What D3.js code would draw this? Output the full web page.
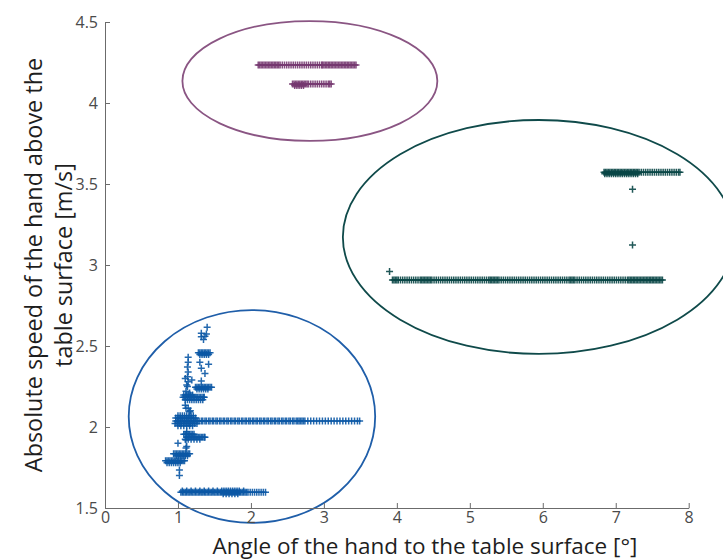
<!DOCTYPE html>
<html><head><meta charset="utf-8">
<script src="https://cdn.jsdelivr.net/npm/d3@7"></script>
<style>body{margin:0;background:#fff}svg{display:block}</style>
</head><body>
<svg id="c" width="723" height="560"></svg>
<script>
// ---------- tick labels / axis data ----------
const xTicks = [0, 1, 2, 3, 4, 5, 6, 7, 8];
const yTicks = [1.5, 2, 2.5, 3, 3.5, 4, 4.5];
const xTitle = "Angle of the hand to the table surface [°]";
const yTitleLines = ["Absolute speed of the hand above the", "table surface [m/s]"];

// ---------- series: rows of points [speed, [angles...]] ----------
const purpleRows = [
  [4.235, [2.10,2.12,2.14,2.16,2.18,2.20,2.22,2.24,2.26,2.28,2.30,2.32,2.34,2.36,2.38,2.40,2.43,2.46,2.49,2.52,2.55,2.58,2.61,2.64,2.67,2.70,2.73,2.76,2.79,2.82,2.85,2.88,2.91,2.94,2.97,2.98,3.00,3.02,3.04,3.06,3.08,3.10,3.12,3.14,3.16,3.18,3.20,3.22,3.24,3.26,3.28,3.30,3.32,3.34,3.36,3.38,3.40,3.42,3.44]],
  [4.117, [2.57,2.59,2.61,2.63,2.65,2.67,2.69,2.71,2.73,2.75,2.77,2.79,2.82,2.85,2.88,2.91,2.94,2.97,3.00,3.03,3.06,3.08,3.10]],
  [4.108, [2.60,2.63,2.66,2.69,2.72]]
];
const purpleSingles = [];

const greenRows = [
  [3.572, [6.84,6.86,6.88,6.90,6.92,6.94,6.96,6.98,7.00,7.02,7.04,7.06,7.08,7.10,7.12,7.14,7.16,7.18,7.20,7.22,7.24,7.26,7.28,7.30,7.32,7.35,7.38,7.41,7.44,7.47,7.50,7.53,7.56,7.59,7.62,7.65,7.68,7.71,7.74,7.77,7.80,7.83,7.86,7.88]],
  [3.564, [6.85,6.88,6.91,6.94,6.97,7.00,7.03,7.06,7.09,7.12,7.15,7.18,7.21,7.24,7.27,7.30]],
  [2.907, [3.94,3.96,3.98,4.00,4.02,4.05,4.08,4.11,4.14,4.17,4.20,4.23,4.26,4.29,4.32,4.34,4.36,4.38,4.40,4.42,4.44,4.46,4.48,4.51,4.54,4.57,4.60,4.63,4.66,4.69,4.72,4.75,4.78,4.81,4.84,4.87,4.90,4.93,4.96,4.99,5.02,5.05,5.08,5.11,5.14,5.17,5.20,5.23,5.26,5.28,5.30,5.32,5.34,5.36,5.38,5.40,5.43,5.46,5.49,5.52,5.55,5.58,5.61,5.64,5.67,5.70,5.73,5.76,5.79,5.82,5.85,5.88,5.91,5.94,5.97,6.00,6.03,6.06,6.09,6.12,6.15,6.18,6.21,6.24,6.27,6.30,6.33,6.36,6.38,6.40,6.42,6.44,6.47,6.50,6.53,6.56,6.59,6.62,6.65,6.68,6.71,6.74,6.77,6.80,6.83,6.86,6.89,6.92,6.95,6.98,7.01,7.04,7.07,7.10,7.13,7.16,7.18,7.20,7.22,7.24,7.26,7.28,7.30,7.32,7.34,7.36,7.38,7.40,7.42,7.44,7.46,7.48,7.50,7.52,7.54,7.56,7.58,7.60,7.62,7.64]]
];
const greenSingles = [[3.90, 2.96], [7.23, 3.467], [7.23, 3.123]];

const blueRows = [
  [1.597, [1.04,1.06,1.08,1.10,1.12,1.14,1.16,1.18,1.20,1.22,1.24,1.26,1.28,1.30,1.32,1.34,1.36,1.38,1.40,1.42,1.44,1.46,1.48,1.50,1.52,1.54,1.56,1.58,1.60,1.62,1.64,1.66,1.68,1.70,1.72,1.74,1.76,1.78,1.80,1.82,1.84,1.86,1.88,1.90,1.92,1.94,1.96,1.99,2.02,2.05,2.08,2.11,2.14,2.17,2.20]],
  [1.605, [1.06,1.12,1.18,1.24,1.30,1.36,1.42,1.48,1.54,1.60,1.63,1.66,1.69,1.72,1.75,1.78,1.81,1.84,1.90]],
  [1.588, [1.62,1.66,1.70,1.74,1.78,1.82]],
  [2.037, [0.97,0.99,1.01,1.03,1.05,1.07,1.09,1.11,1.13,1.15,1.17,1.19,1.21,1.23,1.25,1.27,1.29,1.32,1.34,1.37,1.39,1.42,1.44,1.47,1.49,1.52,1.54,1.57,1.59,1.62,1.64,1.67,1.69,1.72,1.74,1.77,1.79,1.82,1.84,1.87,1.89,1.92,1.94,1.97,1.99,2.02,2.04,2.07,2.09,2.12,2.14,2.17,2.19,2.22,2.24,2.27,2.29,2.32,2.34,2.37,2.39,2.42,2.44,2.47,2.49,2.52,2.54,2.57,2.59,2.62,2.64,2.66,2.68,2.70,2.72,2.74,2.78,2.82,2.86,2.90,2.94,2.98,3.02,3.06,3.10,3.14,3.18,3.22,3.26,3.30,3.34,3.38,3.42,3.46,3.49]],
  [2.070, [1.00,1.03,1.06,1.09,1.12,1.15,1.18,1.21]],
  [2.055, [0.97,1.00,1.03,1.06,1.09,1.12,1.15,1.18,1.21,1.24]],
  [2.022, [0.96,0.99,1.02,1.05,1.08,1.11,1.14,1.17,1.20,1.23,1.26]],
  [2.008, [1.00,1.04,1.08,1.12,1.16,1.20]],
  [1.955, [1.08,1.10,1.12,1.14,1.16,1.18,1.20,1.22]],
  [1.937, [1.12,1.14,1.16,1.18,1.20,1.22,1.24,1.26,1.28,1.30,1.32,1.34,1.36,1.37]],
  [1.925, [1.10,1.14,1.18,1.22,1.26,1.30]],
  [1.835, [0.94,0.96,0.98,1.00,1.02,1.04,1.06,1.08,1.10,1.12,1.14,1.16]],
  [1.822, [0.98,1.01,1.04,1.07,1.10,1.13]],
  [1.792, [0.83,0.85,0.87,0.89,0.91,0.93,0.95,0.97,0.99,1.01,1.03,1.05,1.07,1.09]],
  [1.780, [0.85,0.88,0.91,0.94,0.97,1.00,1.03]],
  [2.198, [1.08,1.11,1.14,1.17,1.20]],
  [2.183, [1.07,1.09,1.11,1.13,1.15,1.17,1.19,1.21,1.23,1.25,1.27,1.29,1.31,1.33,1.35,1.36]],
  [2.168, [1.10,1.13,1.16,1.19,1.22,1.25,1.28,1.31,1.34]],
  [2.245, [1.24,1.26,1.28,1.30,1.32,1.34,1.36,1.38,1.40,1.42,1.44,1.46]],
  [2.235, [1.26,1.29,1.32,1.35,1.38,1.41]],
  [2.458, [1.28,1.30,1.32,1.34,1.36,1.38,1.40,1.42,1.44]],
  [2.448, [1.30,1.33,1.36,1.39,1.42]]
];
const blueSingles = [
  [1.40,2.615],[1.32,2.578],[1.39,2.574],[1.32,2.557],[1.37,2.56],[1.35,2.54],
  [1.42,2.387],[1.32,2.362],[1.37,2.33],[1.32,2.284],[1.30,2.40],[1.19,2.29],
  [1.14,2.43],[1.14,2.40],[1.13,2.37],[1.14,2.34],[1.13,2.31],[1.14,2.28],[1.13,2.25],
  [1.10,2.30],[1.11,2.22],[1.10,2.135],[1.11,2.115],[1.12,2.26],[1.16,2.21],
  [1.14,2.115],[1.16,2.094],[1.17,2.10],
  [1.00,1.90],[1.12,1.88],[1.12,1.97],[1.11,1.92],[1.11,1.87],
  [1.02,1.735],[1.02,1.70]
];

// ---------- cluster ellipses: [cx, cy, rx, ry] in data units ----------
const purpleEllipse = [2.808, 4.136, 1.747, 0.370];
const greenEllipse  = [5.945, 3.173, 2.685, 0.722];
const blueEllipse   = [2.014, 2.065, 1.689, 0.657];

// ---------- drawing ----------
const svg = d3.select("#c");
const x = d3.scaleLinear().domain([0, 8]).range([105, 688.7]);
const y = d3.scaleLinear().domain([1.5, 4.5]).range([508, 22]);

const font = "'Open Sans', sans-serif";

function flatten(rows, singles) {
  const pts = [];
  rows.forEach(([yy, xs]) => xs.forEach(xx => pts.push([xx, yy])));
  singles.forEach(p => pts.push(p));
  return pts;
}

const series = [
  {rows: purpleRows, singles: purpleSingles, ell: purpleEllipse, mc: "#763870", ec: "#8a5583"},
  {rows: greenRows, singles: greenSingles, ell: greenEllipse, mc: "#094646", ec: "#0f4a4a"},
  {rows: blueRows, singles: blueSingles, ell: blueEllipse, mc: "#0b58a5", ec: "#1f5ea9"}
];

const plus = "M-3.5,0H3.5M0,-3.5V3.5";

series.forEach(s => {
  const g = svg.append("g");
  g.selectAll("path").data(flatten(s.rows, s.singles)).join("path")
    .attr("d", plus)
    .attr("transform", d => `translate(${x(d[0])},${y(d[1])})`)
    .attr("fill", "none")
    .attr("stroke", s.mc)
    .attr("stroke-width", 1.5)
    .attr("stroke-opacity", 0.9);
});

series.forEach(s => {
  const [cx, cy, rx, ry] = s.ell;
  svg.append("ellipse")
    .attr("cx", x(cx)).attr("cy", y(cy))
    .attr("rx", x(cx + rx) - x(cx)).attr("ry", y(cy) - y(cy + ry))
    .attr("fill", "none").attr("stroke", s.ec).attr("stroke-width", 1.8);
});

// axes
const xAxis = svg.append("g").attr("transform", `translate(0,${y(1.5)})`)
  .call(d3.axisBottom(x).tickValues(xTicks).tickFormat(d3.format("d")).tickSizeInner(-5).tickSizeOuter(0).tickPadding(3.5));
const yAxis = svg.append("g").attr("transform", `translate(${x(0)},0)`)
  .call(d3.axisLeft(y).tickValues(yTicks).tickFormat(d => String(d)).tickSizeInner(-5).tickSizeOuter(0).tickPadding(7));

[xAxis, yAxis].forEach(a => {
  a.select(".domain").attr("stroke", "#6b6b6b").attr("stroke-width", 1);
  a.selectAll(".tick line").attr("stroke", "#6b6b6b");
  a.selectAll(".tick text").attr("fill", "#4a4a4a").style("font-family", font).style("font-size", "16px");
});

svg.append("text").attr("x", 425).attr("y", 553.5)
  .attr("text-anchor", "middle").attr("fill", "#1e1e1e")
  .style("font-family", font).style("font-size", "22.5px").text(xTitle);

yTitleLines.forEach((t, i) => {
  svg.append("text")
    .attr("transform", `translate(${42 + i * 30},265) rotate(-90)`)
    .attr("text-anchor", "middle").attr("fill", "#1e1e1e")
    .style("font-family", font).style("font-size", "23.4px").text(t);
});
</script>
</body></html>
